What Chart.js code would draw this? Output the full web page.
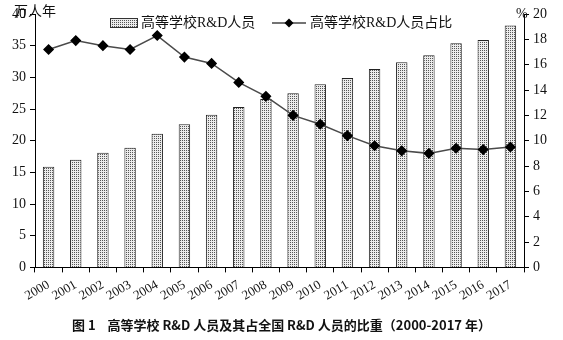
<!DOCTYPE html>
<html>
<head>
<meta charset="utf-8">
<script src="https://cdn.jsdelivr.net/npm/chart.js@4"></script>
<style>
  body { margin: 0; background: #fff; }
  #wrap { width: 563px; height: 340px; position: relative; }
</style>
</head>
<body>
<div id="wrap"><canvas id="myChart" width="563" height="340"></canvas></div>
<script>
// years on the x axis
const years = ["2000", "2001", "2002", "2003", "2004", "2005", "2006", "2007", "2008",
    "2009", "2010", "2011", "2012", "2013", "2014", "2015", "2016", "2017"];
// university R&D personnel, 10k person-years
const staff = [15.9, 17.0, 18.1, 18.9, 21.1, 22.6, 24.1, 25.3, 26.6,
    27.5, 28.9, 29.9, 31.3, 32.4, 33.5, 35.4, 35.9, 38.2];
// share of national R&D personnel, %
const share = [17.2, 17.9, 17.5, 17.2, 18.3, 16.6, 16.1, 14.6, 13.5,
    12.0, 11.3, 10.4, 9.6, 9.2, 9.0, 9.4, 9.3, 9.5];
const leftTicks = { min: 0, max: 40, step: 5 };
const rightTicks = { min: 0, max: 20, step: 2 };

const serif = "'Liberation Serif', 'Noto Sans CJK SC', serif";

// stippled fill for the bars
function dotPattern() {
    const c = document.createElement("canvas");
    c.width = 2; c.height = 2;
    const g = c.getContext("2d");
    g.fillStyle = "#ececec";
    g.fillRect(0, 0, 2, 2);
    g.fillStyle = "#555";
    g.fillRect(0, 0, 1, 1);
    return g.createPattern(c, "repeat");
}
const pattern = dotPattern();

// legend and unit labels sit inside the plot, so draw them by hand
const overlay = {
    id: "overlay",
    afterDraw(chart) {
        const ctx = chart.ctx;
        const barSet = chart.data.datasets.find(d => d.type === "bar");
        const lineSet = chart.data.datasets.find(d => d.type === "line");
        ctx.save();
        ctx.font = "14px " + serif;
        ctx.fillStyle = "#111";
        ctx.textBaseline = "middle";
        ctx.fillText("万人年", 14, 12);
        ctx.fillText("%", 516, 14);

        // bar item
        ctx.fillStyle = pattern;
        ctx.fillRect(110, 18, 27, 9);
        ctx.strokeStyle = "#333";
        ctx.lineWidth = 1;
        ctx.strokeRect(110.5, 18.5, 27, 9);
        ctx.fillStyle = "#111";
        ctx.fillText(barSet.label, 141, 23);
        // line item
        ctx.strokeStyle = "#444";
        ctx.lineWidth = 1.5;
        ctx.beginPath();
        ctx.moveTo(272, 23);
        ctx.lineTo(306, 23);
        ctx.stroke();
        ctx.fillStyle = "#000";
        ctx.beginPath();
        ctx.moveTo(289, 18.5); ctx.lineTo(293.5, 23); ctx.lineTo(289, 27.5); ctx.lineTo(284.5, 23);
        ctx.closePath();
        ctx.fill();
        ctx.fillStyle = "#111";
        ctx.fillText(lineSet.label, 310, 23);
        ctx.restore();
    }
};

const ctx = document.getElementById("myChart").getContext("2d");
new Chart(ctx, {
    data: {
        labels: years,
        datasets: [
            {
                type: "line",
                label: "高等学校R&D人员占比",
                data: share,
                yAxisID: "y1",
                borderColor: "#4a4a4a",
                borderWidth: 1.5,
                pointStyle: "rectRot",
                pointRadius: 4.5,
                pointBackgroundColor: "#000",
                pointBorderColor: "#000",
                tension: 0,
                order: 0
            },
            {
                type: "bar",
                label: "高等学校R&D人员",
                data: staff,
                yAxisID: "y",
                backgroundColor: pattern,
                borderColor: "#222",
                borderWidth: 1,
                barPercentage: 0.42,
                categoryPercentage: 1,
                order: 1
            }
        ]
    },
    plugins: [overlay],
    options: {
        responsive: false,
        animation: false,
        layout: { padding: { top: 14, left: 0, right: 0, bottom: 0 } },
        plugins: {
            legend: { display: false },
            tooltip: { enabled: false },
            title: {
                display: true,
                position: "bottom",
                text: "图 1    高等学校 R&D 人员及其占全国 R&D 人员的比重（2000-2017 年）",
                color: "#111",
                font: { family: "'Noto Sans CJK SC', sans-serif", size: 13, weight: "bold" },
                padding: { top: 10, bottom: 7 }
            }
        },
        scales: {
            x: {
                grid: { offset: true, drawOnChartArea: false, tickLength: 5, color: "#000" },
                border: { color: "#000", width: 1 },
                ticks: {
                    color: "#111", font: { family: serif, size: 13 },
                    autoSkip: false,
                    minRotation: 30, maxRotation: 30, padding: 5
                },
                afterFit(s) { s.height = 40; }
            },
            y: {
                position: "left",
                min: leftTicks.min, max: leftTicks.max,
                grid: { drawOnChartArea: false, tickLength: 5, color: "#000" },
                border: { color: "#000", width: 1 },
                ticks: { stepSize: leftTicks.step, color: "#111", font: { family: serif, size: 14 }, padding: 4 },
                afterFit(s) { s.width = 35; }
            },
            y1: {
                position: "right",
                min: rightTicks.min, max: rightTicks.max,
                grid: { drawOnChartArea: false, tickLength: 5, color: "#000" },
                border: { color: "#000", width: 1 },
                ticks: { stepSize: rightTicks.step, color: "#111", font: { family: serif, size: 14 }, padding: 4 },
                afterFit(s) { s.width = 39; }
            }
        }
    }
});
</script>
</body>
</html>
